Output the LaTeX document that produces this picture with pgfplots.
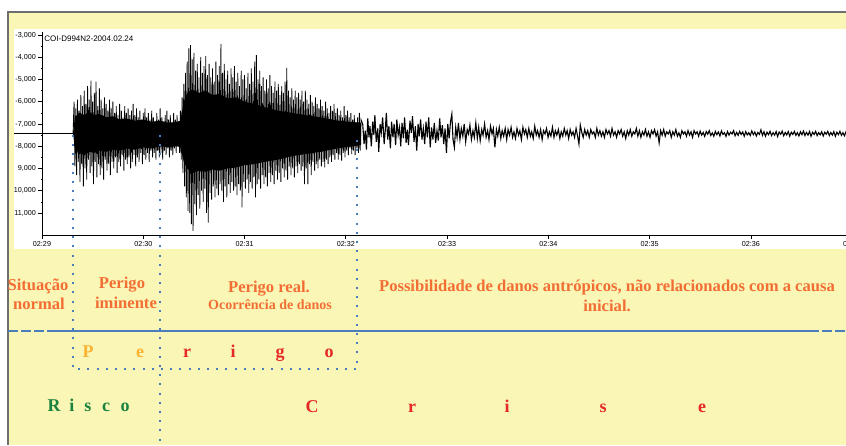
\documentclass[border=0pt]{standalone}
\usepackage{pgfplots}
\pgfplotsset{compat=1.18}
\usepackage{pgfplotstable}
\usepackage{fontspec}
\setmainfont{Liberation Serif}
\newfontfamily\arial{Liberation Sans}
\definecolor{bgy}{RGB}{250,246,181}
\definecolor{txo}{RGB}{242,110,52}
\definecolor{txy}{RGB}{250,178,50}
\definecolor{txr}{RGB}{230,40,40}
\definecolor{txg}{RGB}{28,130,64}
\definecolor{lb}{RGB}{74,126,187}
\definecolor{frm}{RGB}{110,110,110}
\newcommand\fs[1]{\fontsize{#1}{#1}\selectfont}

% dense core of the signal (upper edge, then lower edge back)
\pgfplotstableread[row sep=\\]{
t v\\
18.4 -7420\\ 19.5 -6700\\ 22 -6500\\ 25 -6600\\ 28 -6450\\ 31 -6600\\ 34 -6550\\ 38 -6700\\ 42 -6650\\ 46 -6800\\
50 -6750\\ 55 -6850\\ 60 -6800\\ 65 -6900\\ 70 -6850\\ 75 -6950\\ 80 -6900\\ 82 -6850\\ 84 -6000\\ 86 -5600\\
89 -5450\\ 93 -5600\\ 97 -5500\\ 101 -5700\\ 105 -5650\\ 110 -5850\\ 115 -5800\\ 120 -6000\\ 126 -6100\\ 132 -6250\\
140 -6400\\ 148 -6500\\ 156 -6600\\ 165 -6700\\ 175 -6850\\ 189 -6950\\
189 -7950\\ 175 -8100\\ 165 -8250\\ 156 -8350\\ 148 -8450\\ 140 -8600\\ 132 -8700\\ 126 -8800\\ 120 -8850\\ 115 -8950\\
110 -9000\\ 105 -9100\\ 101 -9050\\ 97 -9150\\ 93 -9100\\ 89 -9200\\ 86 -9000\\ 84 -8700\\ 82 -8050\\ 80 -8000\\
75 -8050\\ 70 -8000\\ 65 -8100\\ 60 -8050\\ 55 -8150\\ 50 -8100\\ 46 -8200\\ 42 -8150\\ 38 -8250\\ 34 -8200\\
31 -8300\\ 28 -8250\\ 25 -8400\\ 22 -8300\\ 19.5 -8100\\ 18.4 -7420\\
}\core

% spikes of the P and S phases
\pgfplotstableread[row sep=\\]{
t v\\
18.4 -7420\\ 19.0 -6000\\ 19.5 -8900\\ 20.0 -6300\\ 20.5 -9300\\ 21.0 -5900\\ 21.5 -8700\\ 22.0 -6400\\ 22.5 -9600\\ 23.0 -5700\\
23.5 -8800\\ 24.0 -6200\\ 24.5 -9800\\ 25.0 -5500\\ 25.5 -9000\\ 26.0 -6100\\ 26.5 -9500\\ 27.0 -5300\\ 27.5 -8600\\ 28.0 -5900\\
28.5 -9200\\ 29.0 -5050\\ 29.5 -8900\\ 30.0 -6000\\ 30.5 -9700\\ 31.0 -5600\\ 31.5 -8700\\ 32.0 -5100\\ 32.5 -9400\\ 33.0 -6200\\
33.5 -8800\\ 34.0 -5400\\ 34.5 -9300\\ 35.0 -5900\\ 35.5 -9000\\ 36.0 -6300\\ 36.5 -9500\\ 37.0 -5800\\ 37.5 -8600\\ 38.0 -6100\\
38.5 -9100\\ 39.0 -6400\\ 39.5 -8800\\ 40.0 -5900\\ 40.5 -9300\\ 41.0 -6300\\ 41.5 -8700\\ 42.0 -6000\\ 42.5 -9000\\ 43.0 -6500\\
43.5 -8500\\ 44.0 -6200\\ 44.5 -9200\\ 45.0 -6600\\ 45.5 -8700\\ 46.0 -6100\\ 46.5 -8900\\ 47.0 -6400\\ 47.5 -8400\\ 48.0 -6700\\
48.5 -9100\\ 49.0 -6200\\ 49.5 -8600\\ 50.0 -6500\\ 50.5 -8800\\ 51.0 -6300\\ 51.5 -8500\\ 52.0 -6600\\ 52.5 -9000\\ 53.0 -6400\\
53.5 -8700\\ 54.0 -6100\\ 54.5 -8400\\ 55.0 -6600\\ 55.5 -8900\\ 56.0 -6300\\ 56.5 -8500\\ 57.0 -6700\\ 57.5 -8700\\ 58.0 -6400\\
58.5 -8300\\ 59.0 -6800\\ 59.5 -8800\\ 60.0 -6500\\ 60.5 -8400\\ 61.0 -6300\\ 61.5 -8600\\ 62.0 -6700\\ 62.5 -8300\\ 63.0 -6500\\
63.5 -8700\\ 64.0 -6800\\ 64.5 -8200\\ 65.0 -6400\\ 65.5 -8500\\ 66.0 -6700\\ 66.5 -8300\\ 67.0 -6900\\ 67.5 -8600\\ 68.0 -6500\\
68.5 -8200\\ 69.0 -6800\\ 69.5 -8500\\ 70.0 -6300\\ 70.5 -8300\\ 71.0 -6700\\ 71.5 -8600\\ 72.0 -6900\\ 72.5 -8200\\ 73.0 -6600\\
73.5 -8400\\ 74.0 -6400\\ 74.5 -8100\\ 75.0 -6800\\ 75.5 -8500\\ 76.0 -6600\\ 76.5 -8200\\ 77.0 -6900\\ 77.5 -8400\\ 78.0 -6500\\
78.5 -8100\\ 79.0 -6800\\ 79.5 -8300\\ 80.0 -6600\\ 80.5 -8000\\ 81.0 -6900\\ 81.5 -8300\\
82.0 -6400\\ 82.5 -8600\\ 83.0 -5800\\ 83.5 -9200\\ 84.0 -5200\\ 84.5 -9800\\ 85.0 -4700\\ 85.5 -10300\\ 86.0 -4200\\ 86.5 -10900\\
87.0 -3600\\ 87.5 -11000\\ 88.0 -3450\\ 88.5 -11500\\ 89.0 -4100\\ 89.5 -11800\\ 90.0 -3800\\ 90.5 -10600\\ 91.0 -4600\\ 91.5 -11100\\
92.0 -4300\\ 92.5 -10200\\ 93.0 -4900\\ 93.5 -10800\\ 94.0 -4000\\ 94.5 -10000\\ 95.0 -4700\\ 95.5 -10500\\ 96.0 -4400\\ 96.5 -9900\\
97.0 -3950\\ 97.5 -11000\\ 98.0 -4800\\ 98.5 -11430\\ 99.0 -4300\\ 99.5 -10100\\ 100.0 -4900\\ 100.5 -10400\\ 101.0 -4500\\ 101.5 -9800\\
102.0 -5100\\ 102.5 -10300\\ 103.0 -4200\\ 103.5 -9900\\ 104.0 -4800\\ 104.5 -10200\\ 105.0 -4400\\ 105.5 -9700\\ 106.0 -3400\\ 106.5 -10000\\
107.0 -4700\\ 107.5 -10500\\ 108.0 -4300\\ 108.5 -9800\\ 109.0 -5000\\ 109.5 -10300\\ 110.0 -4600\\ 110.5 -9700\\ 111.0 -5200\\ 111.5 -10100\\
112.0 -4500\\ 112.5 -9600\\ 113.0 -4900\\ 113.5 -10000\\ 114.0 -4400\\ 114.5 -9800\\ 115.0 -5100\\ 115.5 -10200\\ 116.0 -4700\\ 116.5 -9700\\
117.0 -5300\\ 117.5 -10000\\ 118.0 -4600\\ 118.5 -10750\\ 119.0 -5000\\ 119.5 -9600\\ 120.0 -4800\\ 120.5 -9900\\ 121.0 -5400\\ 121.5 -9500\\
122.0 -4700\\ 122.5 -10100\\ 123.0 -5200\\ 123.5 -9600\\ 124.0 -4500\\ 124.5 -9900\\ 125.0 -5100\\ 125.5 -9400\\ 126.0 -4200\\ 126.5 -10300\\
127.0 -3900\\ 127.5 -9700\\ 128.0 -5000\\ 128.5 -9500\\ 129.0 -4600\\ 129.5 -9900\\ 130.0 -5300\\ 130.5 -9300\\ 131.0 -4900\\ 131.5 -9700\\
132.0 -5500\\ 132.5 -9400\\ 133.0 -5000\\ 133.5 -9800\\ 134.0 -5400\\ 134.5 -9200\\ 135.0 -4800\\ 135.5 -9600\\ 136.0 -5300\\ 136.5 -9300\\
137.0 -5600\\ 137.5 -9700\\ 138.0 -5100\\ 138.5 -9100\\ 139.0 -5500\\ 139.5 -9500\\ 140.0 -5200\\ 140.5 -9200\\ 141.0 -5700\\ 141.5 -9600\\
142.0 -5300\\ 142.5 -9000\\ 143.0 -5600\\ 143.5 -9400\\ 144.0 -5100\\ 144.5 -9100\\ 145.0 -4480\\ 145.5 -9500\\ 146.0 -5500\\ 146.5 -8900\\
147.0 -5800\\ 147.5 -9300\\ 148.0 -5400\\ 148.5 -9000\\ 149.0 -5900\\ 149.5 -9400\\ 150.0 -5500\\ 150.5 -8900\\ 151.0 -5800\\ 151.5 -9200\\
152.0 -5600\\ 152.5 -8800\\ 153.0 -5900\\ 153.5 -9100\\ 154.0 -5500\\ 154.5 -8900\\ 155.0 -6000\\ 155.5 -9700\\ 156.0 -5500\\ 156.5 -9000\\
157.0 -5900\\ 157.5 -9700\\ 158.0 -6100\\ 158.5 -8800\\ 159.0 -5700\\ 159.5 -9300\\ 160.0 -6000\\ 160.5 -8700\\ 161.0 -6200\\ 161.5 -9100\\
162.0 -5800\\ 162.5 -8800\\ 163.0 -6100\\ 163.5 -9000\\ 164.0 -6300\\ 164.5 -8600\\ 165.0 -5900\\ 165.5 -8900\\ 166.0 -6200\\ 166.5 -8700\\
167.0 -6400\\ 167.5 -8950\\ 168.0 -6000\\ 168.5 -8600\\ 169.0 -6300\\ 169.5 -8800\\ 170.0 -6500\\ 170.5 -8500\\ 171.0 -6200\\ 171.5 -8700\\
172.0 -6400\\ 172.5 -8400\\ 173.0 -6100\\ 173.5 -8600\\ 174.0 -6500\\ 174.5 -8300\\ 175.0 -6300\\ 175.5 -8600\\ 176.0 -6600\\ 176.5 -8400\\
177.0 -6400\\ 177.5 -8650\\ 178.0 -6700\\ 178.5 -8300\\ 179.0 -6200\\ 179.5 -8500\\ 180.0 -6600\\ 180.5 -8200\\ 181.0 -6400\\ 181.5 -8400\\
182.0 -6700\\ 182.5 -8100\\ 183.0 -6500\\ 183.5 -8350\\ 184.0 -6800\\ 184.5 -8200\\ 185.0 -6600\\ 185.5 -8400\\ 186.0 -6900\\ 186.5 -8100\\
187.0 -6700\\ 187.5 -8300\\ 188.0 -6500\\ 188.5 -8200\\ 189.0 -6800\\ 190.0 -7000\\
}\spikes

% coda, decaying
\pgfplotstableread[row sep=\\]{
t v\\
190 -7000\\ 190.8 -7900\\ 191.5 -7300\\ 192.2 -8150\\ 193.0 -6750\\ 193.7 -7600\\ 194.3 -7100\\ 195.1 -8000\\ 195.9 -6900\\ 196.6 -7500\\
197.2 -6600\\ 198.0 -7800\\ 198.9 -7200\\ 199.5 -8250\\ 200.3 -7000\\ 201.0 -7400\\ 201.8 -6700\\ 202.7 -7900\\ 203.3 -7350\\ 204.0 -6500\\
204.8 -7700\\ 205.5 -7100\\ 206.4 -8100\\ 207.1 -6900\\ 207.9 -7600\\ 208.6 -7000\\ 209.5 -7950\\ 210.2 -6800\\ 211.0 -7500\\ 211.8 -7150\\
212.5 -8000\\ 213.3 -6950\\ 214.1 -7650\\ 214.8 -6700\\ 215.7 -7850\\ 216.4 -7250\\ 217.1 -7950\\ 218.0 -6850\\ 218.8 -7400\\ 219.5 -6650\\
220.4 -7800\\ 221.2 -7100\\ 222.0 -8200\\ 222.8 -7000\\ 223.5 -7550\\ 224.3 -6800\\ 225.1 -7700\\ 225.9 -7200\\ 226.7 -7900\\ 227.5 -6900\\
228.3 -7600\\ 229.1 -6700\\ 230.0 -8050\\ 230.8 -7150\\ 231.6 -7700\\ 232.4 -6950\\ 233.2 -7850\\ 234.0 -7300\\ 234.8 -7750\\ 235.6 -6750\\
236.4 -7600\\ 237.2 -7050\\ 238.0 -7900\\ 238.8 -7200\\ 239.6 -8300\\ 240.4 -7000\\ 241.2 -7650\\ 242.0 -6900\\ 242.8 -6550\\ 243.5 -7700\\
244.3 -8050\\ 245.1 -7150\\ 245.9 -7600\\ 246.7 -6950\\ 247.6 -7700\\ 248.4 -7200\\ 249.3 -7550\\ 250.1 -7000\\ 251.0 -7800\\ 251.9 -7250\\
252.7 -7450\\ 253.5 -7050\\ 254.4 -7700\\ 255.3 -7300\\ 256.1 -7600\\ 257.0 -6950\\ 257.9 -7650\\ 258.7 -7150\\ 259.6 -7750\\ 260.5 -7250\\
261.3 -7500\\ 262.2 -7000\\ 263.1 -7600\\ 264.0 -7300\\ 264.8 -7700\\ 265.7 -7100\\ 266.6 -7450\\ 267.4 -7200\\ 268.3 -8050\\ 269.2 -7250\\
270.0 -7550\\ 270.9 -7150\\ 271.8 -7650\\ 272.6 -7300\\ 273.5 -7550\\ 274.4 -7200\\ 275.3 -7700\\ 276.1 -7250\\ 277.0 -7500\\ 277.9 -7150\\
278.8 -7600\\ 279.6 -7350\\ 280.5 -7650\\ 281.4 -7200\\ 282.3 -7500\\ 283.1 -7300\\ 284.0 -7700\\ 284.9 -7150\\ 285.8 -7450\\ 286.6 -7250\\
287.5 -7600\\ 288.4 -7200\\ 289.3 -7550\\ 290.1 -7350\\ 291.0 -7650\\ 291.9 -7100\\ 292.8 -7500\\ 293.6 -7300\\ 294.5 -7600\\ 295.4 -7250\\
296.3 -7700\\ 297.1 -7300\\ 298.0 -7450\\ 298.9 -7200\\ 299.8 -7600\\ 300.6 -7350\\ 301.5 -7550\\ 302.4 -7150\\ 303.3 -7600\\ 304.1 -7300\\
305.0 -7500\\ 305.9 -7250\\ 306.8 -7650\\ 307.6 -7350\\ 308.5 -7550\\ 309.4 -7200\\ 310.3 -7500\\ 311.1 -7300\\ 312.0 -7650\\ 312.9 -7250\\
313.8 -7500\\ 314.6 -7350\\ 315.5 -7600\\ 316.4 -7200\\ 317.3 -7550\\ 318.1 -7900\\ 318.9 -7050\\ 319.7 -7350\\ 320.6 -7600\\ 321.5 -7250\\
322.4 -7500\\ 323.3 -7300\\ 324.2 -7600\\ 325.1 -7250\\ 326.0 -7450\\ 326.9 -7350\\ 327.8 -7600\\ 328.7 -7200\\ 329.6 -7500\\ 330.5 -7300\\
331.4 -7550\\ 332.3 -7350\\ 333.2 -7600\\ 334.1 -7250\\ 335.0 -7450\\ 335.9 -7300\\ 336.8 -7550\\ 337.7 -7200\\ 338.6 -7500\\ 339.5 -7350\\
340.4 -7600\\ 341.3 -7300\\ 342.2 -7450\\ 343.1 -7250\\ 344.0 -7550\\ 344.9 -7350\\ 345.8 -7650\\ 346.7 -7300\\ 347.6 -7500\\ 348.5 -7250\\
349.4 -7550\\ 350.3 -7350\\ 351.2 -7450\\ 352.1 -7200\\ 353.0 -7550\\ 353.9 -7300\\ 354.8 -7600\\ 355.7 -7350\\ 356.6 -7500\\ 357.5 -7250\\
358.4 -7550\\ 359.3 -7350\\ 360.2 -7600\\ 361.1 -7300\\ 362.0 -7450\\ 362.9 -7250\\ 363.8 -7550\\ 364.7 -7350\\ 365.6 -7850\\ 366.5 -7300\\
367.4 -7500\\ 368.3 -7250\\ 369.2 -7550\\ 370.1 -7350\\ 371.0 -7450\\ 371.9 -7300\\ 372.8 -7600\\ 373.7 -7350\\ 374.6 -7500\\ 375.5 -7250\\
376.4 -7550\\ 377.3 -7400\\ 378.2 -7600\\ 379.1 -7300\\ 380.0 -7450\\ 380.9 -7350\\ 381.8 -7550\\ 382.7 -7300\\ 383.6 -7500\\ 384.5 -7350\\
385.4 -7600\\ 386.3 -7300\\ 387.2 -7450\\ 388.1 -7350\\ 389.0 -7550\\ 389.9 -7320\\ 390.8 -7500\\ 391.7 -7380\\ 392.6 -7560\\ 393.5 -7340\\
394.4 -7460\\ 395.3 -7300\\ 396.2 -7520\\ 397.1 -7400\\ 398.0 -7550\\ 398.9 -7330\\ 399.8 -7480\\ 400.7 -7360\\ 401.6 -7540\\ 402.5 -7310\\
403.4 -7470\\ 404.3 -7390\\ 405.2 -7560\\ 406.1 -7340\\ 407.0 -7500\\ 407.9 -7370\\ 408.8 -7450\\ 409.7 -7300\\ 410.6 -7530\\ 411.5 -7380\\
412.4 -7510\\ 413.3 -7330\\ 414.2 -7470\\ 415.1 -7360\\ 416.0 -7550\\ 416.9 -7340\\ 417.8 -7490\\ 418.7 -7390\\ 419.6 -7520\\ 420.5 -7310\\
421.4 -7480\\ 422.3 -7360\\ 423.2 -7540\\ 424.1 -7380\\ 425.0 -7470\\ 425.9 -7260\\ 426.8 -7510\\ 427.7 -7350\\ 428.6 -7550\\ 429.5 -7370\\
430.4 -7480\\ 431.3 -7330\\ 432.2 -7520\\ 433.1 -7390\\ 434.0 -7500\\ 434.9 -7340\\ 435.8 -7560\\ 436.7 -7360\\ 437.6 -7460\\ 438.5 -7320\\
439.4 -7530\\ 440.3 -7380\\ 441.2 -7490\\ 442.1 -7340\\ 443.0 -7550\\ 443.9 -7370\\ 444.8 -7470\\ 445.7 -7330\\ 446.6 -7510\\ 447.5 -7390\\
448.4 -7540\\ 449.3 -7350\\ 450.2 -7480\\ 451.1 -7320\\ 452.0 -7520\\ 452.9 -7380\\ 453.8 -7500\\ 454.7 -7340\\ 455.6 -7550\\ 456.5 -7370\\
457.4 -7470\\ 458.3 -7330\\ 459.2 -7520\\ 460.1 -7390\\ 461.0 -7490\\ 461.9 -7350\\ 462.8 -7540\\ 463.7 -7370\\ 464.6 -7460\\ 465.5 -7330\\
466.4 -7520\\ 467.3 -7380\\ 468.2 -7500\\ 469.1 -7340\\ 470.0 -7550\\ 470.9 -7370\\ 471.8 -7480\\ 472.7 -7330\\ 473.6 -7510\\ 474.5 -7390\\
475.4 -7530\\ 476.3 -7350\\ 477.2 -7470\\ 478.1 -7340\\ 479.0 -7520\\ 479.9 -7380\\ 480.8 -7500\\
}\tail

\begin{document}
\begin{tikzpicture}[x=0.5pt,y=-0.5pt]
\path[use as bounding box] (0,0) rectangle (846,445);
\clip (0,0) rectangle (846,445);
\fill[white] (0,0) rectangle (846,445);
\fill[bgy] (8,12) rectangle (846,445);
\draw[frm, line width=0.8pt] (8,445) -- (8,12) -- (846,12);
\fill[white] (14,28.5) rectangle (850,248.5);
\begin{axis}[
  at={(21pt,-117.5pt)}, anchor=south west, scale only axis,
  width=422pt, height=101.5pt,
  xmin=0, xmax=500, ymin=-11990, ymax=-2865,
  axis lines=left, axis line style={-, black, line width=0.4pt},
  clip=false, scaled y ticks=false, scaled x ticks=false,
  xtick={0,60,120,180,240,300,360,420,480},
  xticklabels={02:29,02:30,02:31,02:32,02:33,02:34,02:35,02:36,02:37},
  ytick={-3000,-4000,-5000,-6000,-7000,-8000,-9000,-10000,-11000},
  yticklabels={{-3,000},{-4,000},{-5,000},{-6,000},{-7,000},{-8,000},{9,000},{10,000},{11,000}},
  minor x tick num=29, minor y tick num=1,
  tick align=outside, major tick length=1.8pt, minor tick length=0.6pt,
  tick style={black, line width=0.35pt},
  ticklabel style={font=\arial\fs{3.6}, inner sep=0.5pt},
  xticklabel style={yshift=-0.6pt},
  yticklabel style={xshift=-0.6pt},
]
\addplot[fill=black, draw=none] table[x=t,y=v] {\core};
\addplot[black, line width=0.4pt] table[x=t,y=v] {\spikes};
\addplot[black, line width=0.55pt] table[x=t,y=v] {\tail};
\addplot[black, line width=0.6pt] coordinates {(-16.6,-7430) (18.4,-7430)};
\end{axis}
\node[anchor=west, font=\arial\fs{4}, inner sep=0] at (44,39) {COI-D994N2-2004.02.24};
% dotted markers
\draw[lb, line width=1pt, dash pattern=on 1pt off 3.6pt] (73,135) -- (73,369) -- (357,369) -- (357,140);
\draw[lb, line width=1pt, dash pattern=on 1pt off 3.6pt] (160,135) -- (160,445);
% horizontal blue line
\draw[lb, line width=1.3pt] (50,331) -- (819,331);
\draw[lb, line width=1.3pt, dash pattern=on 5pt off 1.5pt] (8,331) -- (50,331);
\draw[lb, line width=1.3pt, dash pattern=on 5pt off 1.5pt] (822,331) -- (846,331);
% phase texts
\begin{scope}[every node/.style={txo, font=\bfseries\fs{8.3}, anchor=base, inner sep=0}]
\node at (38,290) {Situação};
\node at (39,309) {normal};
\node at (122,288) {Perigo};
\node at (126,308) {iminente};
\node at (269,292) {Perigo real.};
\node[font=\bfseries\fs{7}] at (270,309) {Ocorrência de danos};
\node at (607,291) {Possibilidade de danos antrópicos, não relacionados com a causa};
\node at (607,311) {inicial.};
\end{scope}
\begin{scope}[every node/.style={font=\bfseries\fs{9}, anchor=base, inner sep=0}]
\node[txy] at (88,357) {P};
\node[txy] at (140,357) {e};
\node[txr] at (187,357) {r};
\node[txr] at (233,357) {i};
\node[txr] at (280,357) {g};
\node[txr] at (329,357) {o};
\node[txg] at (54,411) {R};
\node[txg] at (72,411) {i};
\node[txg] at (88,411) {s};
\node[txg] at (106,411) {c};
\node[txg] at (125,411) {o};
\node[txr] at (312,412) {C};
\node[txr] at (412,412) {r};
\node[txr] at (507,412) {i};
\node[txr] at (603,412) {s};
\node[txr] at (702,412) {e};
\end{scope}
\end{tikzpicture}
\end{document}
